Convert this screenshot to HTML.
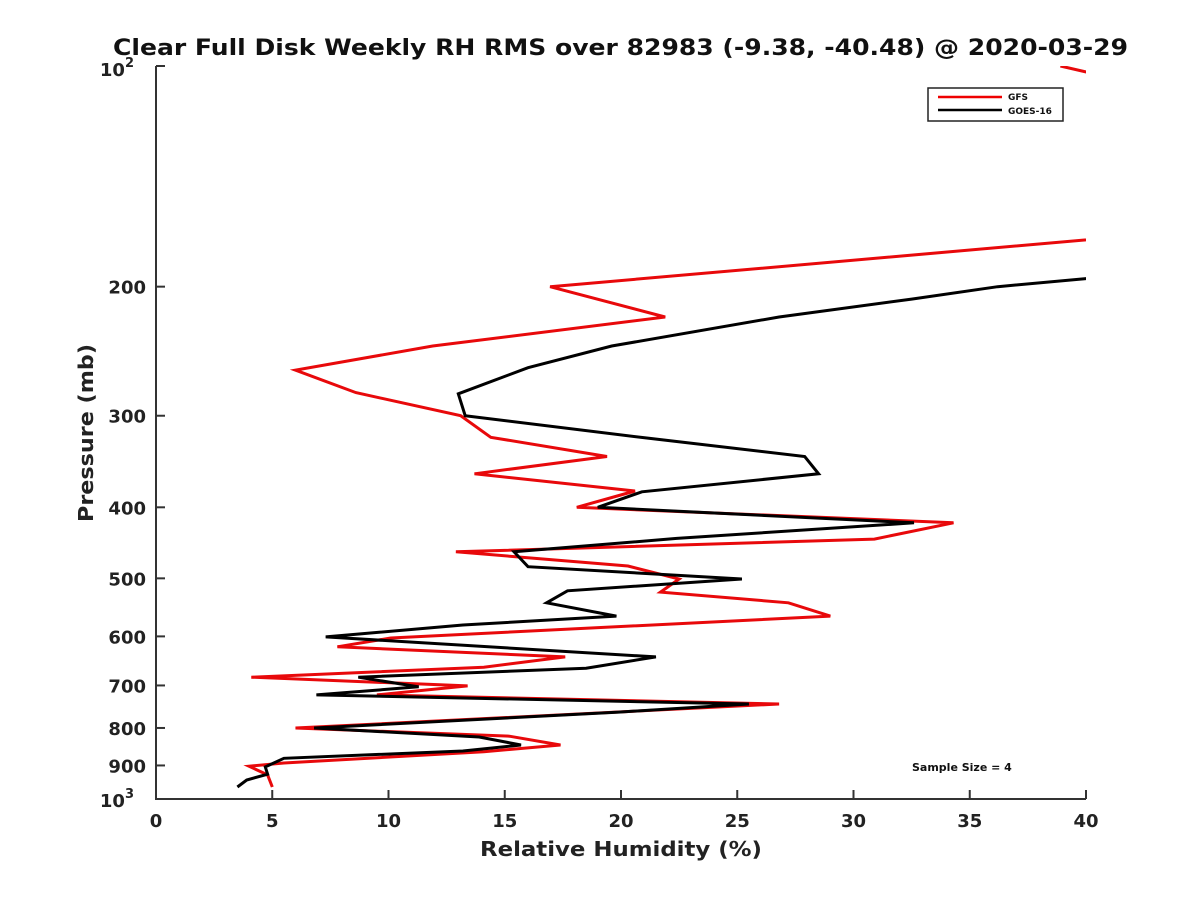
<!DOCTYPE html>
<html><head><meta charset="utf-8"><style>
html,body{margin:0;padding:0;background:#fff;}
svg{display:block;font-family:"DejaVu Sans","Liberation Sans",sans-serif;}
</style></head><body>
<svg id="chart" width="1200" height="900" viewBox="0 0 1200 900">
<defs><clipPath id="plotclip"><rect x="156" y="66" width="930" height="733"/></clipPath></defs>
<text x="113" y="55" textLength="1015" lengthAdjust="spacingAndGlyphs" font-size="22" font-weight="bold" fill="#111">Clear Full Disk Weekly RH RMS over 82983 (-9.38, -40.48) @ 2020-03-29</text>
<g id="axes"></g>
<g id="series" clip-path="url(#plotclip)"></g>
<g>
<rect x="928" y="88" width="135" height="33" fill="#fff" stroke="#222" stroke-width="1.5"/>
<line x1="938" y1="97" x2="1002" y2="97" stroke="#e00" stroke-width="2.5"/>
<text x="1008" y="100" font-size="9" font-weight="bold" fill="#111">GFS</text>
<line x1="938" y1="110" x2="1002" y2="110" stroke="#000" stroke-width="2.5"/>
<text x="1008" y="114" font-size="9" font-weight="bold" fill="#111">GOES-16</text>
</g>
<text x="912" y="771" font-size="11" font-weight="bold" fill="#111">Sample Size = 4</text>
<text x="480" y="856" textLength="282" lengthAdjust="spacingAndGlyphs" font-size="20" font-weight="bold" fill="#222">Relative Humidity (%)</text>
<text transform="translate(93,433) rotate(-90)" text-anchor="middle" textLength="178" lengthAdjust="spacingAndGlyphs" font-size="20" font-weight="bold" fill="#222">Pressure (mb)</text>
</svg>
<script>
const xTicks = [0,5,10,15,20,25,30,35,40];
const yTicks = [100,200,300,400,500,600,700,800,900,1000];
const yTickLabels = ["10","200","300","400","500","600","700","800","900","10"];
const gfsPressure = [100,110,162,200,220,241,260,279,300,321,341,360,380,400,420,442,460,481,501,522,540,563,603,620,640,661,682,701,721,742,800,821,844,862,893,902,927,963];
const gfsRH = [38.9,44.5,50,16.95,21.9,11.9,6.0,8.6,13.1,14.4,19.4,13.7,20.6,18.1,34.3,30.9,12.9,20.3,22.5,21.7,27.2,29.0,10.1,7.8,17.6,14.1,4.1,13.4,9.5,26.8,6.0,15.2,17.4,14.1,5.5,4.0,4.8,5.0];
const goesPressure = [180,195,200,208,220,241,258,280,300,322,341,360,381,400,420,441,460,482,501,520,540,563,579,601,640,663,682,703,721,742,761,800,823,844,860,880,904,925,942,963];
const goesRH = [50,40.0,36.2,32.5,26.8,19.6,16.0,13.0,13.3,21.2,27.9,28.5,20.9,19.0,32.6,22.4,15.4,16.0,25.2,17.7,16.8,19.8,13.2,7.3,21.5,18.5,8.7,11.3,6.9,25.5,19.9,6.8,13.9,15.7,13.2,5.5,4.7,4.8,3.9,3.5];

const NS="http://www.w3.org/2000/svg";
const X0=156,X1=1086,Y0=66,Y1=799;
function xs(v){return X0+(v-0)/(40-0)*(X1-X0);}
function ys(p){return Y0+(Math.log10(p)-2)*(Y1-Y0);}
function mk(tag,attrs,parent){const e=document.createElementNS(NS,tag);for(const k in attrs)e.setAttribute(k,attrs[k]);parent.appendChild(e);return e;}
const axes=document.getElementById('axes');
const ya=mk('line',{x1:X0,y1:Y0,x2:X0,y2:Y1,stroke:'#333','stroke-width':2},axes);


const xa=mk('line',{x1:X0-1,y1:Y1,x2:X1,y2:Y1,stroke:'#333','stroke-width':2},axes);


xTicks.forEach(v=>{
  const t=mk('line',{x1:xs(v),y1:Y1,x2:xs(v),y2:Y1-9,stroke:'#333','stroke-width':2},axes);
  
  
  const l=mk('text',{x:xs(v),y:Y1+28,'text-anchor':'middle','font-size':18,'font-weight':'bold',fill:'#222'},axes);
  l.textContent=String(v);
  
  
});
yTicks.forEach((p,i)=>{
  const t=mk('line',{x1:X0,y1:ys(p),x2:X0+9,y2:ys(p),stroke:'#333','stroke-width':2},axes);
  
  
  const l=mk('text',{x:X0-10,y:ys(p)+7,'text-anchor':'end','font-size':18,'font-weight':'bold',fill:'#222'},axes);
  
  
  if(p===100||p===1000){
    l.setAttribute('x',X0-22);
    l.setAttribute('y',ys(p)+(p===100?10:8));
    l.textContent=yTickLabels[i];
    const s=mk('tspan',{dy:-9,'font-size':13},l);
    s.textContent=p===100?'2':'3';
  } else l.textContent=yTickLabels[i];
});
const ser=document.getElementById('series');
function drawLine(P,V,color,name){
  const pts=P.map((p,i)=>xs(V[i]).toFixed(1)+','+ys(p).toFixed(1)).join(' ');
  const pl=mk('polyline',{points:pts,fill:'none',stroke:color,'stroke-width':3,'stroke-linejoin':'miter'},ser);
  
  
}
drawLine(gfsPressure,gfsRH,'#e8090b','gfs-line');
drawLine(goesPressure,goesRH,'#000','goes16-line');
</script>
</body></html>
